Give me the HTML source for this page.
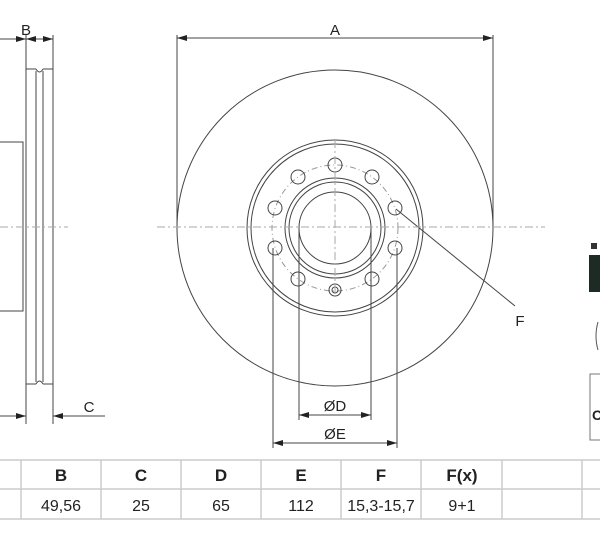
<!DOCTYPE html>
<html><head><meta charset="utf-8"><style>
html,body{margin:0;padding:0;background:#fff;width:600px;height:533px;overflow:hidden}
svg{display:block}
text{font-family:"Liberation Sans",Arial,sans-serif;fill:#222}
</style></head><body>
<svg width="600" height="533" viewBox="0 0 600 533">
<defs>
<marker id="ar" viewBox="0 0 10 6" refX="10" refY="3" markerWidth="11" markerHeight="6" orient="auto-start-reverse" markerUnits="userSpaceOnUse"><path d="M0,0L10,3L0,6z" fill="#222"/></marker>
</defs>
<g stroke="#444" stroke-width="1" fill="none">
<line x1="26" y1="35" x2="26" y2="424"/>
<line x1="53" y1="35" x2="53" y2="424"/>
<path d="M26,69H36M43,69H53M36,69 q3.5,6 7,0"/>
<path d="M26,384H36M43,384H53M36,384 q3.5,-6 7,0"/>
<line x1="36" y1="71" x2="36" y2="382"/>
<line x1="43" y1="71" x2="43" y2="382"/>
<path d="M0,142H23V311H0"/>
<line x1="0" y1="39" x2="26" y2="39" marker-end="url(#ar)"/>
<line x1="26" y1="39" x2="53" y2="39" marker-start="url(#ar)" marker-end="url(#ar)"/>
<line x1="0" y1="416" x2="26" y2="416" marker-end="url(#ar)"/>
<line x1="105" y1="416" x2="53" y2="416" marker-end="url(#ar)"/>
<circle cx="335" cy="228" r="158"/>
<circle cx="335" cy="228" r="88"/>
<circle cx="335" cy="228" r="84"/>
<circle cx="335" cy="228" r="50"/>
<circle cx="335" cy="228" r="46"/>
<circle cx="335" cy="228" r="36"/>
<circle cx="335" cy="228" r="63" stroke="#999" stroke-dasharray="6,3,1,3"/>
<circle cx="335" cy="165" r="7"/>
<circle cx="298" cy="177" r="7"/>
<circle cx="372" cy="177" r="7"/>
<circle cx="275" cy="208" r="7"/>
<circle cx="395" cy="208" r="7"/>
<circle cx="275" cy="248" r="7"/>
<circle cx="395" cy="248" r="7"/>
<circle cx="298" cy="279" r="7"/>
<circle cx="372" cy="279" r="7"/>
<circle cx="335" cy="290" r="6"/>
<circle cx="335" cy="290" r="3"/>
<line x1="177" y1="35" x2="177" y2="228"/>
<line x1="493" y1="35" x2="493" y2="228"/>
<line x1="177" y1="38" x2="493" y2="38" marker-start="url(#ar)" marker-end="url(#ar)"/>
<line x1="299" y1="228" x2="299" y2="420"/>
<line x1="371" y1="228" x2="371" y2="420"/>
<line x1="273" y1="248" x2="273" y2="448"/>
<line x1="397" y1="248" x2="397" y2="448"/>
<line x1="299" y1="415" x2="371" y2="415" marker-start="url(#ar)" marker-end="url(#ar)"/>
<line x1="273" y1="443" x2="397" y2="443" marker-start="url(#ar)" marker-end="url(#ar)"/>
<line x1="396" y1="209" x2="515" y2="306"/>
</g>
<g stroke="#aaa" stroke-width="1" stroke-dasharray="8,3,2,3" fill="none">
<line x1="0" y1="227" x2="68" y2="227"/>
<line x1="157" y1="227" x2="545" y2="227"/>
<line x1="335" y1="140" x2="335" y2="300"/>
</g>
<text x="26" y="35" font-size="15" text-anchor="middle">B</text>
<text x="89" y="412" font-size="15" text-anchor="middle">C</text>
<text x="335" y="35" font-size="15" text-anchor="middle">A</text>
<text x="520" y="326" font-size="15" text-anchor="middle">F</text>
<text x="335" y="411" font-size="15" text-anchor="middle">ØD</text>
<text x="335" y="439" font-size="15" text-anchor="middle">ØE</text>
<rect x="589" y="255" width="11" height="37" fill="#1e2a24"/>
<rect x="591" y="243" width="6" height="6" fill="#333"/>
<path d="M598,322 q-4,14 0,28" stroke="#555" fill="none"/>
<path d="M600,374H590V440H600" stroke="#777" fill="none"/>
<text x="592" y="420" font-size="14" font-weight="bold">C</text>
<g stroke="#ccc" stroke-width="1.5">
<line x1="0" y1="460" x2="600" y2="460"/>
<line x1="0" y1="489" x2="600" y2="489"/>
<line x1="0" y1="519" x2="600" y2="519"/>
<line x1="21" y1="460" x2="21" y2="519"/>
<line x1="101" y1="460" x2="101" y2="519"/>
<line x1="181" y1="460" x2="181" y2="519"/>
<line x1="261" y1="460" x2="261" y2="519"/>
<line x1="341" y1="460" x2="341" y2="519"/>
<line x1="421" y1="460" x2="421" y2="519"/>
<line x1="502" y1="460" x2="502" y2="519"/>
<line x1="582" y1="460" x2="582" y2="519"/>
</g>
<g font-size="17" font-weight="bold" text-anchor="middle">
<text x="61" y="481">B</text><text x="141" y="481">C</text><text x="221" y="481">D</text>
<text x="301" y="481">E</text><text x="381" y="481">F</text><text x="462" y="481">F(x)</text>
</g>
<g font-size="16" text-anchor="middle">
<text x="61" y="511">49,56</text><text x="141" y="511">25</text><text x="221" y="511">65</text>
<text x="301" y="511">112</text><text x="381" y="511">15,3-15,7</text><text x="462" y="511">9+1</text>
</g>
</svg>
</body></html>
